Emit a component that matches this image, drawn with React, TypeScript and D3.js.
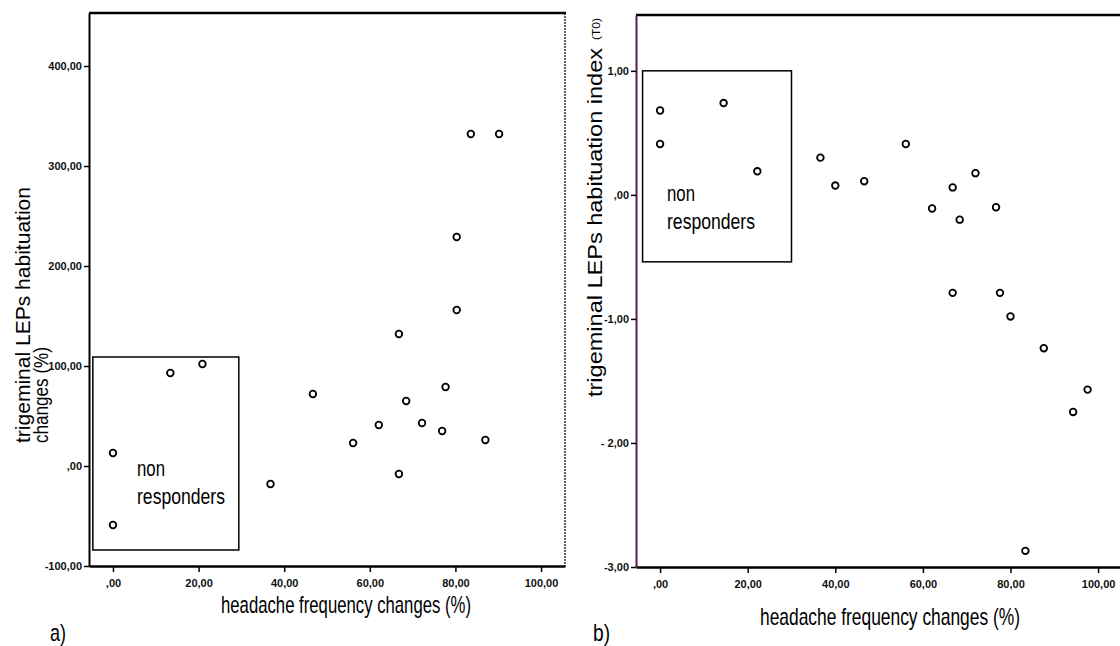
import React, { useEffect, useRef } from 'react';
import * as d3 from 'd3';

const W = 1120;
const H = 646;

// panel a) : habituation changes (%) vs headache frequency changes (%)
const aFreq = [0, 0, 13.4, 20.9, 36.8, 46.7, 56.1, 62.1, 66.8, 66.8, 68.5, 72.2, 76.9, 77.7, 80.3, 80.3, 83.6, 87, 90.2];
const aHab = [13, -59, 93, 102, -18, 72, 23, 41, 132, -8, 65, 43, 35, 79, 156, 229, 332, 26, 332];
const aYTicks = [-100, 0, 100, 200, 300, 400];
const aYLabels = ['-100,00', ',00', '100,00', '200,00', '300,00', '400,00'];

// panel b) : habituation index (T0) vs headache frequency changes (%)
const bFreq = [0, 0, 14.5, 22.2, 36.6, 40, 46.6, 56.1, 62.1, 66.8, 66.8, 68.4, 72, 76.7, 77.6, 80, 83.4, 87.6, 94.3, 97.6];
const bIdx = [0.68, 0.41, 0.74, 0.19, 0.3, 0.075, 0.11, 0.41, -0.11, 0.06, -0.79, -0.2, 0.175, -0.1, -0.79, -0.98, -2.87, -1.236, -1.75, -1.57];
const bYTicks = [1, 0, -1, -2, -3];
const bYLabels = ['1,00', ',00', '-1,00', '- 2,00', '-3,00'];

const xTicks = [0, 20, 40, 60, 80, 100];
const xTickLabels = [',00', '20,00', '40,00', '60,00', '80,00', '100,00'];

const narrow = "'Liberation Sans Narrow', 'Arial Narrow', 'Liberation Sans', sans-serif";
const sans = "'Liberation Sans', Arial, sans-serif";

interface PanelOpts {
  xs: number[];
  ys: number[];
  xDomain: [number, number];
  yDomain: [number, number];
  left: number;
  right: number;
  top: number;
  bottom: number;
  yTicks: number[];
  yLabels: string[];
  box: [number, number, number, number]; // x0, x1, y0, y1 in data units
  yAxisColor: string;
  rightBorder: boolean;
}

function drawPanel(svg: d3.Selection<SVGSVGElement, unknown, null, undefined>, o: PanelOpts) {
  const x = d3.scaleLinear().domain(o.xDomain).range([o.left, o.right]);
  const y = d3.scaleLinear().domain(o.yDomain).range([o.bottom, o.top]);
  const g = svg.append('g');

  // top frame line
  g.append('line')
    .attr('x1', o.left).attr('x2', o.right + 1)
    .attr('y1', o.top).attr('y2', o.top)
    .attr('stroke', '#000').attr('stroke-width', 2.5);
  if (o.rightBorder) {
    g.append('line')
      .attr('x1', o.right).attr('x2', o.right)
      .attr('y1', o.top).attr('y2', o.bottom)
      .attr('stroke', '#111').attr('stroke-width', 1.3)
      .attr('stroke-dasharray', '2,1');
  }

  const yAxis = g.append('g')
    .attr('transform', `translate(${o.left},0)`)
    .call(
      d3.axisLeft(y)
        .tickValues(o.yTicks)
        .tickFormat((_d, i) => o.yLabels[i])
        .tickSize(5)
        .tickSizeOuter(0)
        .tickPadding(2)
    );
  yAxis.select('.domain').attr('stroke', o.yAxisColor).attr('stroke-width', 2);
  yAxis.selectAll('.tick line').attr('stroke', '#000').attr('stroke-width', 1.5);
  yAxis.selectAll('.tick text')
    .attr('font-family', narrow).attr('font-size', 11).attr('font-weight', 'bold')
    .attr('fill', '#111');

  const xAxis = g.append('g')
    .attr('transform', `translate(0,${o.bottom})`)
    .call(
      d3.axisBottom(x)
        .tickValues(xTicks)
        .tickFormat((_d, i) => xTickLabels[i])
        .tickSize(6)
        .tickSizeOuter(0)
        .tickPadding(7)
    );
  xAxis.select('.domain').attr('stroke', '#000').attr('stroke-width', 2.5);
  xAxis.selectAll('.tick line').attr('stroke', '#000').attr('stroke-width', 1.5);
  xAxis.selectAll('.tick text')
    .attr('font-family', narrow).attr('font-size', 11).attr('font-weight', 'bold')
    .attr('fill', '#111');

  // non responders box
  const [bx0, bx1, by0, by1] = o.box;
  g.append('rect')
    .attr('x', x(bx0)).attr('y', y(by0))
    .attr('width', x(bx1) - x(bx0)).attr('height', y(by1) - y(by0))
    .attr('fill', 'none').attr('stroke', '#000').attr('stroke-width', 1.5);

  g.selectAll('circle.pt')
    .data(o.xs.map((v, i) => [v, o.ys[i]]))
    .enter()
    .append('circle')
    .attr('class', 'pt')
    .attr('cx', (d) => x(d[0]))
    .attr('cy', (d) => y(d[1]))
    .attr('r', 3.3)
    .attr('fill', '#fff')
    .attr('stroke', '#000')
    .attr('stroke-width', 1.8);

  return { x, y };
}

function addText(
  svg: d3.Selection<SVGSVGElement, unknown, null, undefined>,
  txt: string, px: number, py: number, size: number, family: string,
  opts: { anchor?: string; rotate?: number; length?: number } = {}
) {
  const t = svg.append('text')
    .attr('transform', `translate(${px},${py}) rotate(${opts.rotate ?? 0})`)
    .attr('font-family', family)
    .attr('font-size', size)
    .attr('text-anchor', opts.anchor ?? 'start')
    .attr('fill', '#000')
    .text(txt);
  if (opts.length) t.attr('textLength', opts.length).attr('lengthAdjust', 'spacingAndGlyphs');
  return t;
}

export default function App() {
  const ref = useRef<SVGSVGElement>(null);

  useEffect(() => {
    const svg = d3.select(ref.current as SVGSVGElement);
    svg.selectAll('*').remove();
    svg.append('rect').attr('width', W).attr('height', H).attr('fill', '#fff');

    drawPanel(svg, {
      xs: aFreq, ys: aHab,
      xDomain: [-5.6, 105.6], yDomain: [-100, 453],
      left: 89, right: 565, top: 13, bottom: 566,
      yTicks: aYTicks, yLabels: aYLabels,
      box: [-4.7, 29.4, 109, -84],
      yAxisColor: '#000', rightBorder: true,
    });

    drawPanel(svg, {
      xs: bFreq, ys: bIdx,
      xDomain: [-5.5, 105], yDomain: [-3, 1.45],
      left: 636, right: 1120, top: 15, bottom: 567,
      yTicks: bYTicks, yLabels: bYLabels,
      box: [-4.0, 30.0, 1.0, -0.54],
      yAxisColor: '#5e1a52', rightBorder: false,
    });

    // non responders labels
    addText(svg, 'non', 137, 476, 22, narrow, { length: 28 });
    addText(svg, 'responders', 137, 504, 22, narrow, { length: 88 });
    addText(svg, 'non', 667, 201, 22, narrow, { length: 28 });
    addText(svg, 'responders', 667, 229, 22, narrow, { length: 88 });

    // axis titles
    addText(svg, 'headache frequency changes (%)', 346, 613, 24, narrow, { anchor: 'middle', length: 250 });
    addText(svg, 'headache frequency changes (%)', 890, 625, 24, narrow, { anchor: 'middle', length: 260 });

    addText(svg, 'trigeminal LEPs habituation', 30, 443, 21, sans, { rotate: -90, length: 256 });
    addText(svg, 'changes (%)', 48, 443, 20, sans, { rotate: -90, length: 96 });

    addText(svg, 'trigeminal LEPs habituation index', 602, 397, 21, sans, { rotate: -90, length: 349 });
    addText(svg, '(T0)', 600, 40, 11, sans, { rotate: -90, length: 22 });

    // panel letters
    addText(svg, 'a)', 50, 641, 24, narrow, { length: 16 });
    addText(svg, 'b)', 593, 641, 24, narrow, { length: 17 });
  }, []);

  return (
    <svg
      ref={ref}
      width={W}
      height={H}
      style={{ position: 'absolute', left: 0, top: 0, display: 'block' }}
    />
  );
}
